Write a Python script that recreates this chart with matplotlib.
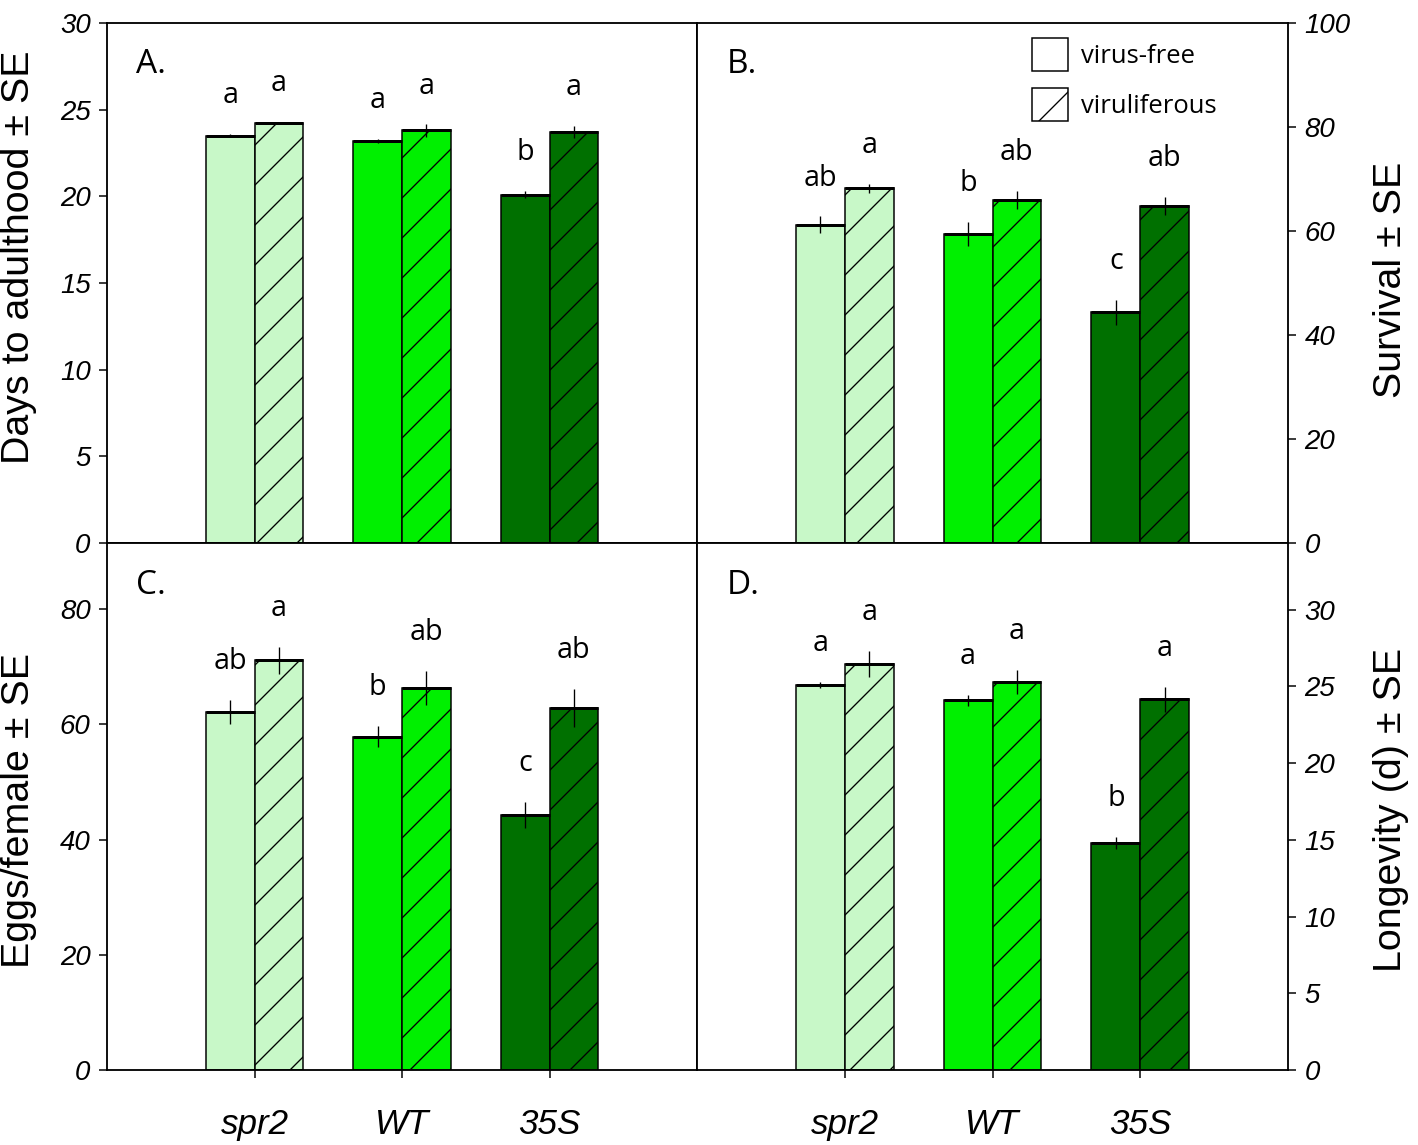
#!/usr/bin/env python3
"""Four-panel bar chart: whitefly performance on spr2 / WT / 35S plants."""

import matplotlib

matplotlib.use("Agg")

import matplotlib.pyplot as plt
import numpy as np
from matplotlib.patches import Patch

GENOTYPES = ["spr2", "WT", "35S"]
TREATMENTS = ["virus-free", "viruliferous"]
COLORS = ["#c8f8c8", "#00f000", "#007000"]

# A. days to adulthood
DAYS_FREE = [23.5, 23.2, 20.1]
DAYS_FREE_SE = [0.1, 0.1, 0.2]
DAYS_VIR = [24.25, 23.8, 23.7]
DAYS_VIR_SE = [0.05, 0.35, 0.35]
DAYS_LET_FREE = ["a", "a", "b"]
DAYS_LET_VIR = ["a", "a", "a"]

# B. survival
SURV_FREE = [61.2, 59.5, 44.4]
SURV_FREE_SE = [1.6, 2.3, 2.4]
SURV_VIR = [68.2, 66.0, 64.8]
SURV_VIR_SE = [0.8, 1.7, 1.7]
SURV_LET_FREE = ["ab", "b", "c"]
SURV_LET_VIR = ["a", "ab", "ab"]

# C. eggs per female
EGGS_FREE = [62.2, 57.9, 44.3]
EGGS_FREE_SE = [2.1, 1.8, 2.2]
EGGS_VIR = [71.1, 66.3, 62.9]
EGGS_VIR_SE = [2.3, 3.0, 3.3]
EGGS_LET_FREE = ["ab", "b", "c"]
EGGS_LET_VIR = ["a", "ab", "ab"]

# D. longevity
LONG_FREE = [25.1, 24.1, 14.8]
LONG_FREE_SE = [0.2, 0.35, 0.38]
LONG_VIR = [26.45, 25.3, 24.15]
LONG_VIR_SE = [0.85, 0.8, 0.8]
LONG_LET_FREE = ["a", "a", "b"]
LONG_LET_VIR = ["a", "a", "a"]

DPI = 240
W_PX, H_PX = 1418, 1145
BAR_W = 0.33

plt.rcParams["hatch.linewidth"] = 0.4
plt.rcParams["hatch.color"] = "black"

TICK_FONT = ["Liberation Sans Narrow", "Liberation Sans", "DejaVu Sans"]
LABEL_FONT = ["Liberation Sans", "DejaVu Sans"]
NOTE_FONT = ["Open Sans", "DejaVu Sans"]


def px_box(left, top, right, bottom):
    return [left / W_PX, 1 - bottom / H_PX, (right - left) / W_PX, (bottom - top) / H_PX]


def style_ticklabels(axis):
    for tick in axis.get_major_ticks():
        for lbl in (tick.label1, tick.label2):
            lbl.set_family(TICK_FONT)
            lbl.set_style("italic")


def draw_panel(ax, free, free_se, vir, vir_se, let_free, let_vir, ymax, yticks,
               side, ylabel, label_y, tag, bottom_row):
    x = np.arange(1, len(GENOTYPES) + 1)
    for offset, means, ses, lets, hatch in (
        (-BAR_W / 2, free, free_se, let_free, None),
        (BAR_W / 2, vir, vir_se, let_vir, "//"),
    ):
        pos = x + offset
        ax.bar(pos, means, width=BAR_W, color=COLORS, edgecolor="black",
               linewidth=0.45, hatch=hatch, zorder=2)
        ax.hlines(means, pos - BAR_W / 2, pos + BAR_W / 2, colors="black",
                  linewidth=0.9, zorder=3)
        lo = np.array(means) - np.array(ses)
        hi = np.array(means) + np.array(ses)
        ax.vlines(pos, lo, hi, colors="black", linewidth=0.4, zorder=4)
        for px_, top, txt in zip(pos, hi, lets):
            ax.annotate(txt, (px_, top), xytext=(0, 11.5), textcoords="offset points",
                        ha="center", va="center", fontsize=8.6, family=NOTE_FONT)

    ax.set_xlim(0, 4)
    ax.set_ylim(0, ymax)
    ax.set_yticks(yticks)
    ax.set_xticks(x)
    if bottom_row:
        ax.set_xticklabels(GENOTYPES)
    else:
        ax.set_xticklabels([])
    ax.tick_params(axis="both", direction="out", length=2.4, width=0.45, colors="black")
    ax.tick_params(axis="y", labelsize=8.3, pad=2.5)
    ax.tick_params(axis="x", labelsize=10.5, pad=9)

    if side == "right":
        ax.yaxis.tick_right()
        ax.yaxis.set_label_position("right")
        ax.set_ylabel(ylabel, fontsize=11.8, family=LABEL_FONT, rotation=90)
        ax.yaxis.set_label_coords(1.143, label_y)
    else:
        ax.set_ylabel(ylabel, fontsize=11.8, family=LABEL_FONT)
        ax.yaxis.set_label_coords(-0.118, label_y)
    style_ticklabels(ax.yaxis)
    style_ticklabels(ax.xaxis)

    ax.text(0.05, 0.92, tag, transform=ax.transAxes, ha="left", va="center",
            fontsize=10, family=NOTE_FONT)
    for spine in ax.spines.values():
        spine.set_linewidth(0.55)


fig = plt.figure(figsize=(W_PX / DPI, H_PX / DPI), dpi=DPI)
fig.patch.set_facecolor("white")

ax_a = fig.add_axes(px_box(107, 23, 697, 543))
ax_b = fig.add_axes(px_box(697, 23, 1288, 543))
ax_c = fig.add_axes(px_box(107, 543, 697, 1070))
ax_d = fig.add_axes(px_box(697, 543, 1288, 1070))

draw_panel(ax_a, DAYS_FREE, DAYS_FREE_SE, DAYS_VIR, DAYS_VIR_SE, DAYS_LET_FREE, DAYS_LET_VIR,
           30, np.arange(0, 31, 5), "left", "Days to adulthood ± SE", 0.55, "A.", False)
draw_panel(ax_b, SURV_FREE, SURV_FREE_SE, SURV_VIR, SURV_VIR_SE, SURV_LET_FREE, SURV_LET_VIR,
           100, np.arange(0, 101, 20), "right", "Survival ± SE", 0.506, "B.", False)
draw_panel(ax_c, EGGS_FREE, EGGS_FREE_SE, EGGS_VIR, EGGS_VIR_SE, EGGS_LET_FREE, EGGS_LET_VIR,
           91.5, np.arange(0, 81, 20), "left", "Eggs/female ± SE", 0.493, "C.", True)
draw_panel(ax_d, LONG_FREE, LONG_FREE_SE, LONG_VIR, LONG_VIR_SE, LONG_LET_FREE, LONG_LET_VIR,
           34.35, np.arange(0, 31, 5), "right", "Longevity (d) ± SE", 0.493, "D.", True)

handles = [
    Patch(facecolor="white", edgecolor="black", linewidth=0.45, label=TREATMENTS[0]),
    Patch(facecolor="white", edgecolor="black", linewidth=0.45, hatch="//", label=TREATMENTS[1]),
]
ax_b.legend(handles=handles, loc="upper left", bbox_to_anchor=(0.545, 0.995), frameon=False,
            borderpad=0, handlelength=1.4, handleheight=1.6, handletextpad=0.5,
            labelspacing=0.65, prop={"family": NOTE_FONT, "size": 7.7})

fig.savefig("out.png", dpi=DPI, facecolor="white")
